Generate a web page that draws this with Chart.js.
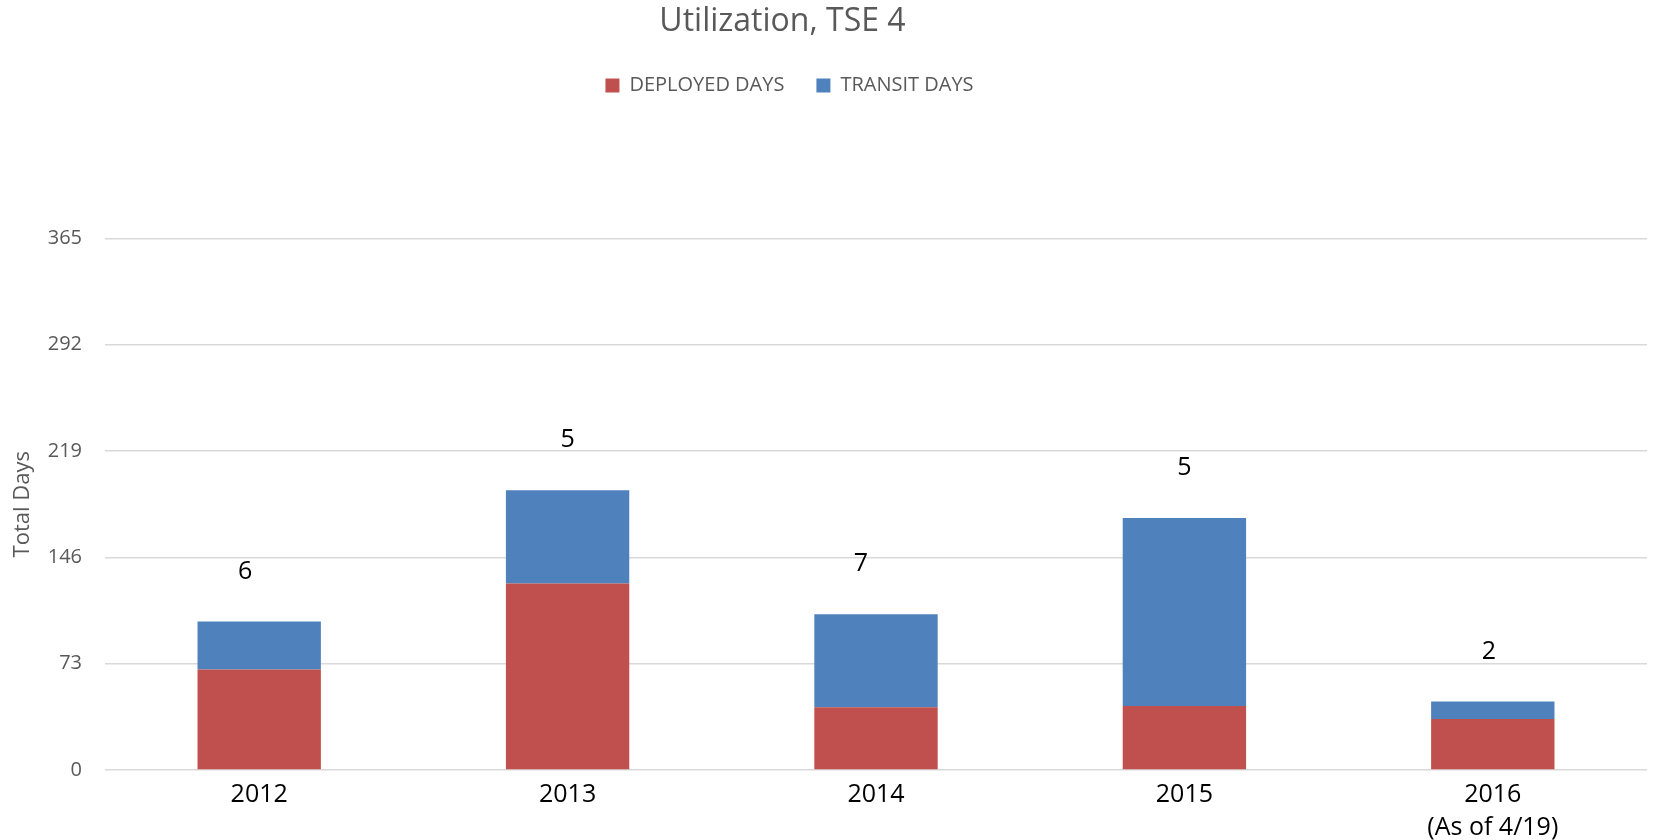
<!DOCTYPE html>
<html>
<head>
<meta charset="utf-8">
<title>Utilization, TSE 4</title>
<script src="https://cdn.jsdelivr.net/npm/chart.js@4.4.1/dist/chart.umd.min.js"></script>
<style>
    html, body { margin: 0; padding: 0; background: #ffffff; }
    #wrap { width: 1653px; height: 840px; position: relative; }
</style>
</head>
<body>
<div id="wrap"><canvas id="chart"></canvas></div>
<script>
// chart data
const years = ['2012', '2013', '2014', '2015', ['2016', '(As of 4/19)']];
const deployedDays = [69, 128, 43, 44, 35];
const transitDays = [33, 64, 64, 129, 12];
const topLabels = [6, 5, 7, 5, 2];
const yTicks = [0, 73, 146, 219, 292, 365];

const RED = '#C0504D';
const BLUE = '#4F81BD';
const GREY_TEXT = '#595959';

Chart.defaults.font.family = "'Open Sans', 'DejaVu Sans', sans-serif";

// numbers printed above each stacked column (hand-placed in the original, hence the nudges)
const topLabelPlugin = {
    id: 'topLabels',
    afterDatasetsDraw(chart, args, opts) {
        const ctx = chart.ctx;
        const meta = chart.getDatasetMeta(1);
        const nudge = opts.nudgeX || [];
        ctx.save();
        ctx.font = "25px 'Open Sans', sans-serif";
        ctx.fillStyle = '#000000';
        ctx.textAlign = 'center';
        ctx.textBaseline = 'middle';
        meta.data.forEach((bar, i) => {
            ctx.fillText(String(topLabels[i]), bar.x + (nudge[i] || 0), bar.y - opts.gap);
        });
        ctx.restore();
    }
};

// empty band between legend and plot, and the title/legend sit a bit left of centre
const headerPlugin = {
    id: 'header',
    beforeLayout(chart) {
        const lg = chart.legend;
        if (lg && !lg._gapPatched) {
            const origFit = lg.fit.bind(lg);
            lg.fit = function () {
                origFit();
                this.height += 133;
            };
            lg._gapPatched = true;
        }
    },
    afterLayout(chart) {
        if (chart.titleBlock) chart.titleBlock.right -= 82;
        if (chart.legend) chart.legend.right -= 68;
    }
};

var ctx = document.getElementById('chart').getContext('2d');
const chartInstance = new Chart(ctx, {
    type: 'bar',
    data: {
        labels: years,
        datasets: [{
            label: 'DEPLOYED DAYS',
            data: deployedDays,
            backgroundColor: RED,
            borderWidth: 0
        }, {
            label: 'TRANSIT DAYS',
            data: transitDays,
            backgroundColor: BLUE,
            borderWidth: 0
        }]
    },
    options: {
        responsive: true,
        maintainAspectRatio: false,
        animation: false,
        layout: {
            padding: { left: 0, right: 6, top: 0, bottom: 0 }
        },
        datasets: {
            bar: {
                barPercentage: 0.4,
                categoryPercentage: 1.0
            }
        },
        plugins: {
            title: {
                display: true,
                text: 'Utilization, TSE 4',
                color: GREY_TEXT,
                font: { size: 32, weight: 'normal', lineHeight: 1.2 },
                padding: { top: 3, bottom: 2 }
            },
            legend: {
                display: true,
                position: 'top',
                labels: {
                    color: GREY_TEXT,
                    font: { size: 20 },
                    boxWidth: 14,
                    boxHeight: 14,
                    padding: 32
                }
            },
            tooltip: { enabled: false },
            topLabels: {
                gap: 50,
                nudgeX: [-14, 0, -15, 0, -4]
            }
        },
        scales: {
            x: {
                stacked: true,
                afterFit: (scale) => {
                    scale.height = 70;
                },
                grid: { display: false, drawTicks: false },
                border: { display: false },
                ticks: {
                    color: '#000000',
                    font: { size: 25, lineHeight: 1.3 },
                    padding: 9,
                    maxRotation: 0
                }
            },
            y: {
                stacked: true,
                min: 0,
                max: 365,
                afterBuildTicks: (scale) => {
                    scale.ticks = yTicks.map(v => ({ value: v }));
                },
                afterFit: (scale) => {
                    scale.width = 105;
                },
                grid: {
                    color: '#D9D9D9',
                    lineWidth: 1.5,
                    drawTicks: false
                },
                border: { display: false },
                ticks: {
                    color: GREY_TEXT,
                    font: { size: 20 },
                    padding: 23
                },
                title: {
                    display: true,
                    text: 'Total Days',
                    color: GREY_TEXT,
                    font: { size: 22 },
                    padding: { top: 10, bottom: 0 }
                }
            }
        }
    },
    plugins: [topLabelPlugin, headerPlugin]
});
</script>
</body>
</html>
